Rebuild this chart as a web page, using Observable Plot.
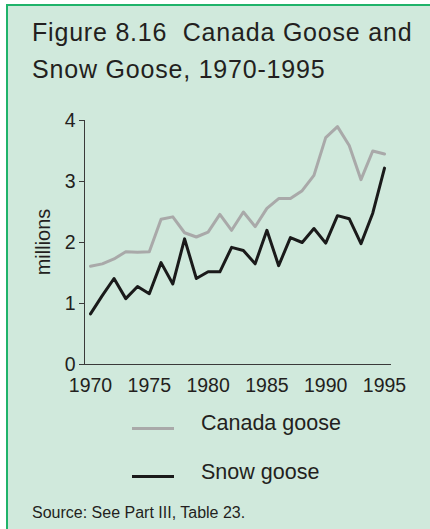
<!DOCTYPE html>
<html>
<head>
<meta charset="utf-8">
<script src="https://cdn.jsdelivr.net/npm/d3@7"></script>
<script src="https://cdn.jsdelivr.net/npm/@observablehq/plot@0.6"></script>
<style>
  html, body { margin: 0; padding: 0; background: #ffffff; }
  body { width: 430px; height: 529px; overflow: hidden; position: relative; font-family: "Liberation Sans", Arial, sans-serif; color: #231f20; }
  #panel { position: absolute; left: 6px; top: 4px; width: 440px; height: 540px; background: #d0e9dc; border-left: 2.5px solid #1fb36a; border-top: 2.5px solid #1fb36a; }
  .title { position: absolute; left: 32px; font-size: 25px; letter-spacing: 0.8px; white-space: nowrap; }
  #chart { position: absolute; left: 0; top: 100px; }
  #ylabel { position: absolute; left: 43px; top: 242px; font-size: 20px; white-space: nowrap; transform: translate(-50%, -50%) rotate(-90deg); }
  .leg { position: absolute; font-size: 21.5px; white-space: nowrap; }
  .sw { position: absolute; height: 3px; width: 42px; }
  #source { position: absolute; left: 32px; top: 504px; font-size: 16px; white-space: nowrap; }
</style>
</head>
<body>
<div id="panel"></div>
<div class="title" style="top:18px">Figure 8.16&nbsp; Canada Goose and</div>
<div class="title" style="top:55px">Snow Goose, 1970-1995</div>
<div id="chart"></div>
<div id="ylabel">millions</div>
<div class="sw" style="left:132px; top:427px; background:#a9a9a9"></div>
<div class="leg" style="left:201px; top:411px">Canada goose</div>
<div class="sw" style="left:132px; top:475px; background:#1a1a1a"></div>
<div class="leg" style="left:201px; top:460px">Snow goose</div>
<div id="source">Source: See Part III, Table 23.</div>
<script>
const years = d3.range(1970, 1996);
const canadaGoose = [1.61, 1.65, 1.73, 1.85, 1.84, 1.85, 2.38, 2.42, 2.16, 2.09, 2.17, 2.46, 2.20, 2.50, 2.26, 2.56, 2.72, 2.72, 2.85, 3.10, 3.72, 3.90, 3.59, 3.03, 3.50, 3.45];
const snowGoose = [0.83, 1.13, 1.41, 1.08, 1.28, 1.16, 1.67, 1.32, 2.06, 1.41, 1.52, 1.52, 1.92, 1.87, 1.65, 2.20, 1.62, 2.08, 2.00, 2.23, 1.99, 2.44, 2.39, 1.98, 2.48, 3.22];
const xTicks = [1970, 1975, 1980, 1985, 1990, 1995];
const yTicks = [0, 1, 2, 3, 4];

const canada = years.map((y, i) => ({year: y, value: canadaGoose[i]}));
const snow = years.map((y, i) => ({year: y, value: snowGoose[i]}));

const xMin = 1969.49, xMax = 1995.595;

const chart = Plot.plot({
  width: 430,
  height: 304,
  marginLeft: 84,
  marginRight: 39,
  marginTop: 20,
  marginBottom: 40,
  style: {background: "transparent", fontFamily: "'Liberation Sans', Arial, sans-serif", color: "#231f20", overflow: "visible"},
  x: {domain: [xMin, xMax], axis: null},
  y: {domain: [0, 4], axis: null},
  marks: [
    Plot.ruleX([xMin], {stroke: "#3a3a3a", strokeWidth: 1}),
    Plot.ruleY([0], {stroke: "#3a3a3a", strokeWidth: 1}),
    Plot.axisY({ticks: yTicks, tickSize: 5, tickPadding: 4, tickFormat: d => String(d), fontSize: 19.5, stroke: "#3a3a3a", label: null}),
    Plot.axisX({ticks: xTicks, tickSize: 0, tickPadding: 14, tickFormat: d => String(d), fontSize: 19.5, label: null}),
    Plot.line(canada, {x: "year", y: "value", stroke: "#a9a9a9", strokeWidth: 3}),
    Plot.line(snow, {x: "year", y: "value", stroke: "#1a1a1a", strokeWidth: 3})
  ]
});
document.getElementById("chart").appendChild(chart);
</script>
</body>
</html>
